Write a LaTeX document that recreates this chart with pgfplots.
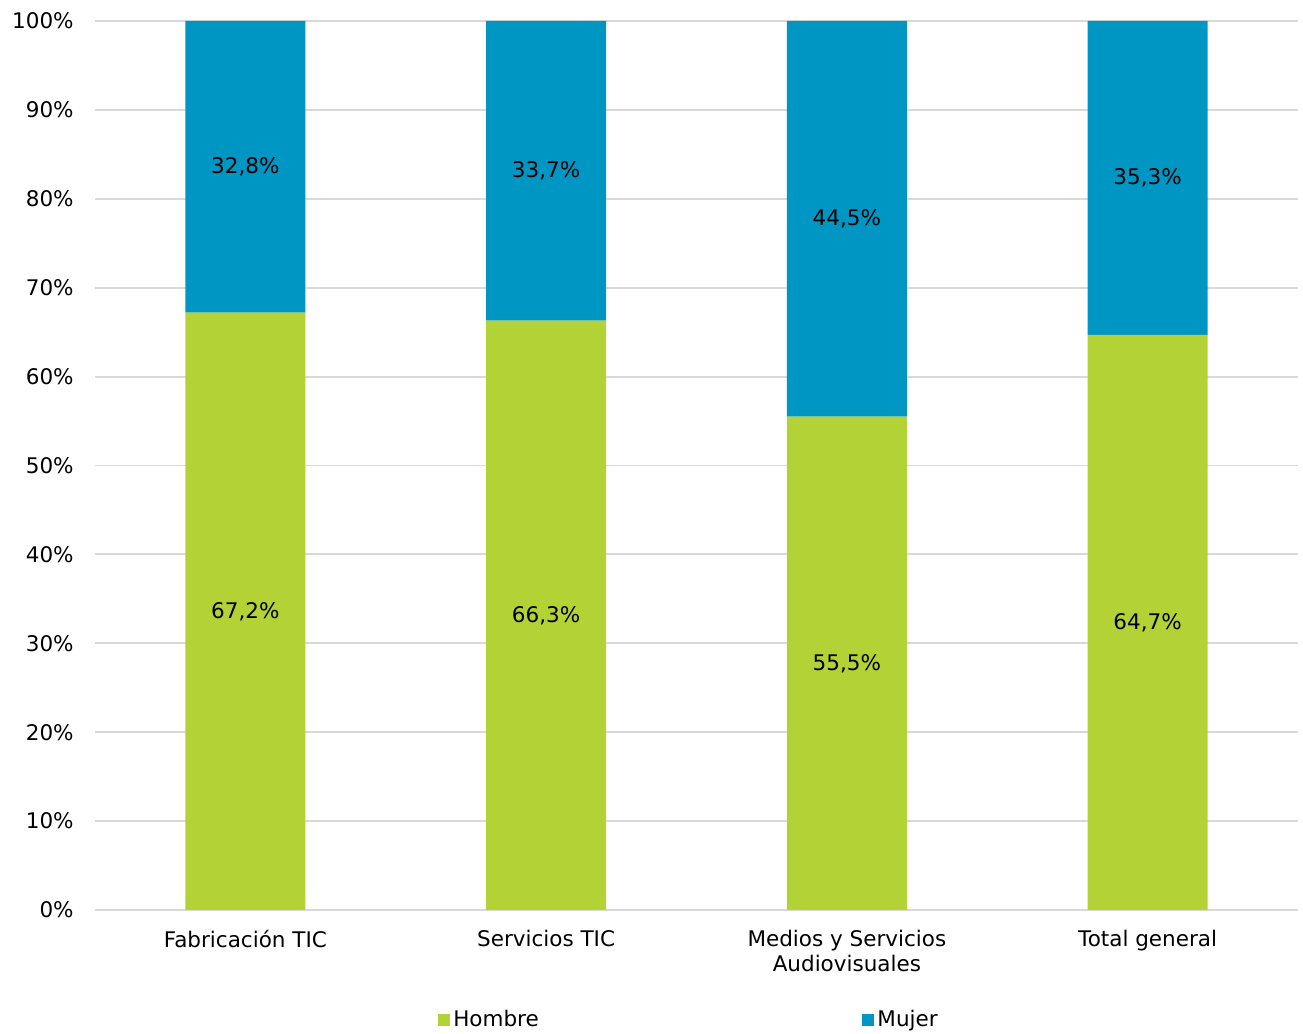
\documentclass[border=0pt]{standalone}
\usepackage{fontspec}
\setmainfont{DejaVu Sans}
\usepackage{pgfplots}
\pgfplotsset{compat=1.18}
\usepackage{pgfplotstable}
\definecolor{hombre}{HTML}{B2D235}
\definecolor{mujer}{HTML}{0096C3}
\definecolor{gridc}{HTML}{D9D9D9}
\pgfplotstableread{
x y
0 67.2
1 66.3
2 55.5
3 64.7
}\hombre
\pgfplotstableread{
x y
0 32.8
1 33.7
2 44.5
3 35.3
}\mujer
\begin{document}
\fontsize{12.9pt}{15.5pt}\selectfont
\begin{tikzpicture}
\begin{axis}[
  name=ax,
  scale only axis,
  width=721.8pt, height=533.4pt,
  xmin=-0.5, xmax=3.5, ymin=0, ymax=100,
  ybar stacked, bar width=72pt,
  axis line style={draw=none},
  axis x line*=bottom,
  x axis line style={draw=gridc, line width=1.1pt},
  major tick length=0pt,
  ytick={0,10,...,100},
  ymajorgrids, grid style={gridc, line width=1.1pt},
  xtick=data,
  xticklabels={Fabricación TIC, Servicios TIC, {Medios y Servicios\\Audiovisuales}, Total general},
  xticklabel style={align=center, inner sep=0pt, yshift=-12pt, font=\fontsize{12.9pt}{15pt}\selectfont},
  /pgf/number format/assume math mode=true,
  yticklabel={\pgfmathprintnumber{\tick}\%},
  yticklabel style={inner sep=0pt, xshift=-12.6pt, font=\fontsize{12.9pt}{15.5pt}\selectfont},
  point meta=explicit,
  nodes near coords={\pgfmathprintnumber[fixed,fixed zerofill,precision=1,use comma]{\pgfplotspointmeta}\%},
  every node near coord/.append style={anchor=center, text=black, font=\fontsize{12.9pt}{15.5pt}\selectfont},
  legend style={at={(0.4942,-0.1237)}, anchor=center, draw=none, legend columns=2,
    font=\fontsize{12.9pt}{15.5pt}\selectfont,
    /tikz/every even column/.append style={column sep=192pt}},
  legend image code/.code={\fill[#1] (0pt,-3.6pt) rectangle (7.2pt,3.6pt);},
]
\addplot[fill=hombre, draw=none] table[x=x,y=y,meta=y]{\hombre};
\addlegendentry{Hombre}
\addplot[fill=mujer, draw=none] table[x=x,y=y,meta=y]{\mujer};
\addlegendentry{Mujer}
\end{axis}
\pgfresetboundingbox
\path (ax.south west) ++(-57pt,-74.4pt) rectangle ++(781.8pt,620.4pt);
\end{tikzpicture}
\end{document}
